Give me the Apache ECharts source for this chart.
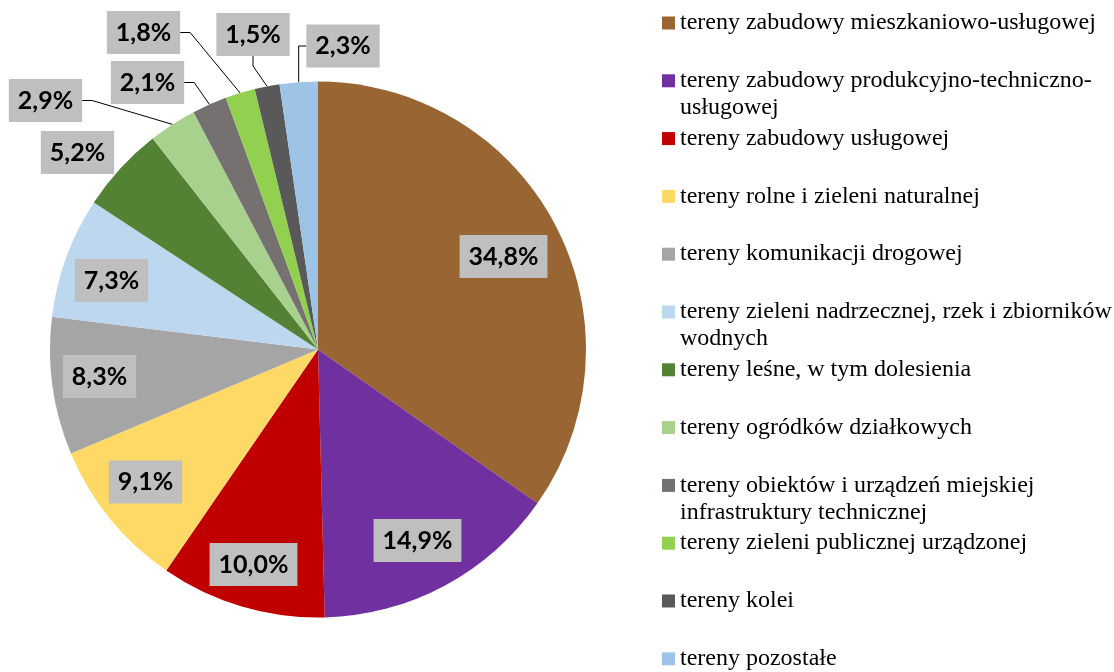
<!DOCTYPE html>
<html>
<head>
<meta charset="utf-8">
<script src="https://cdn.jsdelivr.net/npm/echarts@6/dist/echarts.min.js"></script>
<style>
  html, body { margin: 0; padding: 0; background: #fff; }
  #chart { width: 1114px; height: 672px; }
</style>
</head>
<body>
<div id="chart"></div>
<script>
var categories = [
  'tereny zabudowy mieszkaniowo-usługowej',
  'tereny zabudowy produkcyjno-techniczno-usługowej',
  'tereny zabudowy usługowej',
  'tereny rolne i zieleni naturalnej',
  'tereny komunikacji drogowej',
  'tereny zieleni nadrzecznej, rzek i zbiorników wodnych',
  'tereny leśne, w tym dolesienia',
  'tereny ogródków działkowych',
  'tereny obiektów i urządzeń miejskiej infrastruktury technicznej',
  'tereny zieleni publicznej urządzonej',
  'tereny kolei',
  'tereny pozostałe'
];
var shares = [34.8, 14.9, 10.0, 9.1, 8.3, 7.3, 5.2, 2.9, 2.1, 1.8, 1.5, 2.3];
var colors = ['#996633', '#7030a0', '#c00000', '#ffd966', '#a5a5a5', '#bdd7ee',
              '#548235', '#a9d18e', '#767171', '#92d050', '#595959', '#9dc3e6'];

// legend text as it wraps in the original (leading blank line keeps the
// marker level with the first line)
var legendText = {
  'tereny zabudowy produkcyjno-techniczno-usługowej': '\ntereny zabudowy produkcyjno-techniczno-\nusługowej',
  'tereny zieleni nadrzecznej, rzek i zbiorników wodnych': '\ntereny zieleni nadrzecznej, rzek i zbiorników\nwodnych',
  'tereny obiektów i urządzeń miejskiej infrastruktury technicznej': '\ntereny obiektów i urządzeń miejskiej\ninfrastruktury technicznej'
};

var CX = 318, CY = 349.5, R = 268;
// label centres, as placed in the original
var labelSpots = [
  [503.5, 256.5], [417.5, 540.5], [253.5, 564.5], [145.5, 482], [99.5, 376.5], [111.5, 280.5],
  [77.5, 152.5], [45.5, 100.5], [147.5, 82.5], [143.5, 32.5], [253, 34.5], [343, 46]
];
var outsideFrom = 6;

var dom = document.getElementById('chart');
var myChart = echarts.init(dom, null, { renderer: 'canvas' });

var pieData = shares.map(function (v, i) {
  var outside = i >= outsideFrom;
  return {
    name: categories[i],
    value: v,
    itemStyle: { color: colors[i] },
    label: { position: outside ? 'outside' : 'inside' },
    labelLine: { show: outside && i !== 6 }
  };
});

var legends = categories.map(function (name, i) {
  var wrapped = legendText[name] !== undefined;
  var yc = 23 + 57.8 * i;
  return {
    data: [{ name: name, icon: 'rect' }],
    left: 662,
    top: wrapped ? yc - 40.5 : yc - 13.5,
    padding: 0,
    itemWidth: 13,
    itemHeight: 13,
    selectedMode: false,
    formatter: function (n) { return legendText[n] || n; },
    textStyle: {
      fontFamily: 'Liberation Serif',
      fontSize: 24,
      color: '#000',
      lineHeight: 27
    }
  };
});

var option = {
  animation: false,
  legend: legends,
  series: [
    {
      type: 'pie',
      center: [CX, CY],
      radius: R,
      startAngle: 90,
      clockwise: true,
      avoidLabelOverlap: false,
      emphasis: { disabled: true },
      data: pieData,
      label: {
        show: true,
        fontFamily: 'Lato',
        fontWeight: 'bold',
        fontSize: 25,
        lineHeight: 31,
        color: '#000',
        backgroundColor: '#bfbfbf',
        padding: [6, 9],
        formatter: function (p) {
          return p.value.toFixed(1).replace('.', ',') + '%';
        }
      },
      labelLine: {
        length: 10,
        length2: 10,
        lineStyle: { color: '#000', width: 1 }
      },
      labelLayout: function (p) {
        var spot = labelSpots[p.dataIndex];
        return { x: spot[0], y: spot[1], align: 'center', verticalAlign: 'middle' };
      }
    }
  ]
};

myChart.setOption(option);
window.addEventListener('resize', myChart.resize);
</script>
</body>
</html>
